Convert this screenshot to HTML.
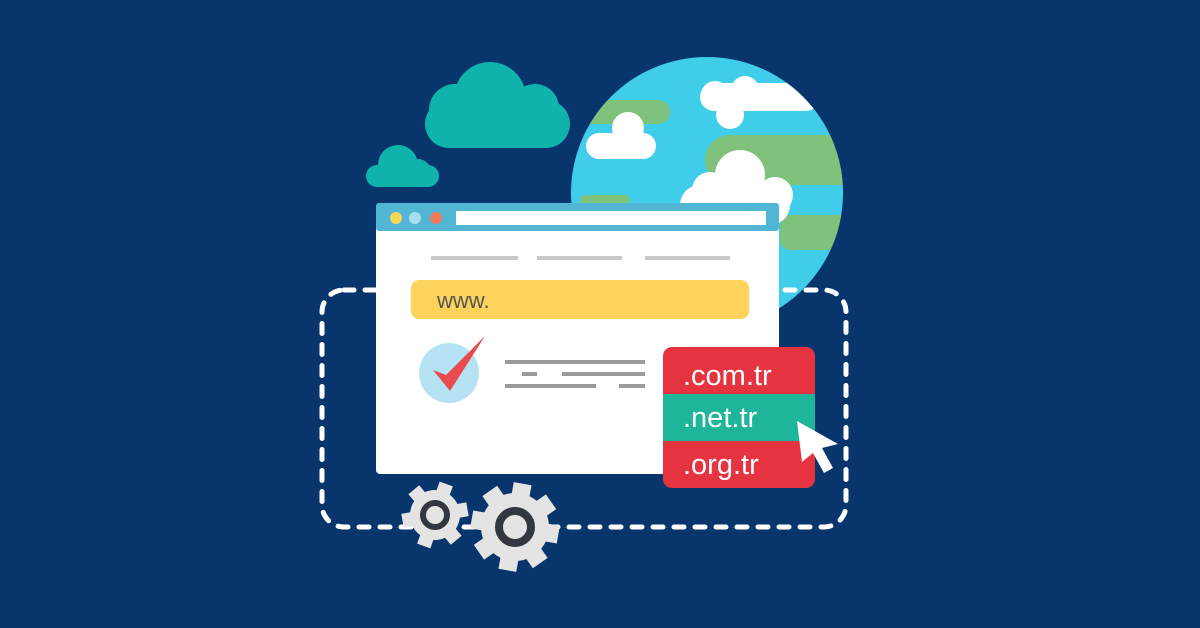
<!DOCTYPE html>
<html><head><meta charset="utf-8"><style>html,body{margin:0;padding:0;background:#08366c}svg{display:block}</style></head><body>
<svg width="1200" height="628" viewBox="0 0 1200 628" xmlns="http://www.w3.org/2000/svg">
<rect width="1200" height="628" fill="#08366c"/>
<g fill="#0fb3ac">
<rect x="425" y="100" width="145" height="48" rx="24"/>
<circle cx="490" cy="98" r="36"/><circle cx="455" cy="110" r="26"/><circle cx="535" cy="108" r="24"/>
<rect x="366" y="165" width="73" height="22" rx="11"/>
<circle cx="398" cy="165" r="20"/><circle cx="418" cy="172" r="13"/>
</g>
<defs><clipPath id="g"><circle cx="707" cy="193" r="136"/></clipPath></defs>
<circle cx="707" cy="193" r="136" fill="#3fcdea"/>
<g clip-path="url(#g)">
<rect x="570" y="100" width="100" height="24" rx="12" fill="#7fc27c"/>
<rect x="705" y="135" width="160" height="50" rx="25" fill="#7fc27c"/>
<rect x="580" y="195" width="50" height="10" rx="5" fill="#7fc27c"/>
<rect x="780" y="215" width="90" height="35" rx="10" fill="#7fc27c"/>
<rect x="780" y="186" width="90" height="12" fill="#3fcdea"/>
<g fill="#fff">
<rect x="700" y="83" width="120" height="28" rx="14"/><circle cx="715" cy="95" r="14"/><circle cx="745" cy="90" r="14"/><circle cx="730" cy="115" r="14"/>
<rect x="586" y="133" width="70" height="26" rx="13"/><circle cx="628" cy="128" r="16"/><circle cx="600" cy="145" r="12"/>
<rect x="680" y="185" width="110" height="40" rx="20"/><circle cx="740" cy="175" r="25"/><circle cx="710" cy="190" r="18"/><circle cx="775" cy="195" r="18"/>
</g>
</g>
<rect x="322" y="290" width="524" height="237" rx="22" fill="none" stroke="#fff" stroke-width="5" stroke-dasharray="10 11" stroke-linecap="round"/>
<rect x="376" y="203" width="403" height="271" rx="4" fill="#fff"/>
<rect x="376" y="203" width="403" height="28" rx="3" fill="#52b5d3"/>
<circle cx="396" cy="218" r="6" fill="#f6d55c"/><circle cx="415" cy="218" r="6" fill="#a8dfee"/><circle cx="436" cy="218" r="6" fill="#f07b5b"/>
<rect x="456" y="211" width="310" height="14" fill="#fff"/>
<g fill="#c8c8c8"><rect x="431" y="256" width="87" height="4"/><rect x="537" y="256" width="85" height="4"/><rect x="645" y="256" width="85" height="4"/></g>
<rect x="411" y="280" width="338" height="39" rx="8" fill="#fdd35c"/>
<text x="437" y="308" font-family="Liberation Sans, sans-serif" font-size="22" fill="#555">www.</text>
<circle cx="449" cy="373" r="30" fill="#b5e3f3"/>
<path d="M433 370 L446 375 L485 336 L450 391 Z" fill="#e84a4f"/>
<g fill="#9a9a9a"><rect x="505" y="360" width="140" height="4"/><rect x="522" y="372" width="15" height="4"/><rect x="562" y="372" width="83" height="4"/><rect x="505" y="384" width="91" height="4"/><rect x="619" y="384" width="26" height="4"/></g>
<rect x="663" y="347" width="152" height="141" rx="9" fill="#e5343f"/>
<rect x="663" y="394" width="152" height="47" fill="#1fb59a"/>
<g font-family="Liberation Sans, sans-serif" font-size="29" fill="#fff">
<text x="683" y="385">.com.tr</text><text x="683" y="427">.net.tr</text><text x="683" y="474">.org.tr</text></g>
<path d="M797 421 L838 444 L822 448 L833 468 L824 473 L813 453 L802 462 Z" fill="#fff"/>
<g fill="#e4e4e4">
<g transform="translate(435,515) rotate(20)"><circle r="25"/>
<rect x="-7" y="-33" width="14" height="66"/><rect x="-7" y="-33" width="14" height="66" transform="rotate(60)"/><rect x="-7" y="-33" width="14" height="66" transform="rotate(120)"/></g>
<g transform="translate(515,527) rotate(10)"><circle r="34"/>
<rect x="-9" y="-44" width="18" height="88"/><rect x="-9" y="-44" width="18" height="88" transform="rotate(45)"/><rect x="-9" y="-44" width="18" height="88" transform="rotate(90)"/><rect x="-9" y="-44" width="18" height="88" transform="rotate(135)"/></g>
</g>
<circle cx="435" cy="515" r="12" fill="none" stroke="#33373f" stroke-width="6"/>
<circle cx="515" cy="527" r="16" fill="none" stroke="#33373f" stroke-width="8"/>
</svg>
</body></html>
